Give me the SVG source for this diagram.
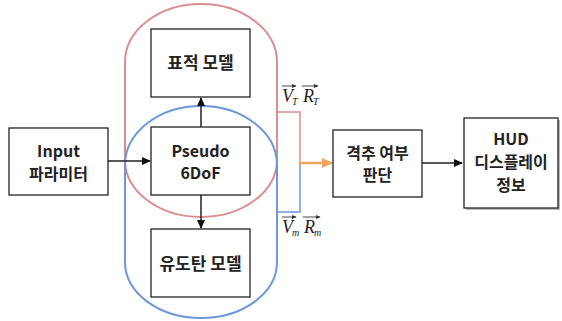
<svg xmlns="http://www.w3.org/2000/svg" width="562" height="321" viewBox="0 0 562 321">
<defs>
<style>
.box{fill:#fff;stroke:#222;stroke-width:1.3}
.t{font-family:"Noto Sans CJK KR","Noto Sans",sans-serif;font-size:16px;font-weight:bold;fill:#222;text-anchor:middle}
.tl{font-size:17px}
.v{font-family:"Liberation Serif",serif;font-style:italic;font-size:18px;fill:#222}
.s{font-family:"Liberation Serif",serif;font-style:italic;font-size:10px;fill:#222}
.ln{stroke:#222;stroke-width:1.5;fill:none}
.ov{stroke:#333;stroke-width:0.9;fill:none}
</style>
<marker id="ah" markerWidth="10" markerHeight="10" refX="8" refY="5" orient="auto" markerUnits="userSpaceOnUse"><path d="M0,1 L9,5 L0,9 Z" fill="#111"/></marker>
<marker id="ao" markerWidth="12" markerHeight="12" refX="10" refY="6" orient="auto" markerUnits="userSpaceOnUse"><path d="M0,1 L11,6 L0,11 Z" fill="#f0a35a"/></marker>
<marker id="sa" markerWidth="5" markerHeight="5" refX="4" refY="2.5" orient="auto" markerUnits="userSpaceOnUse"><path d="M0,0.5 L4.5,2.5 L0,4.5 Z" fill="#333"/></marker>
</defs>
<g id="regions">
<path d="M125,160 L125,62 A76,58 0 0 1 277,62 L277,160 A76,57 0 0 1 125,160 Z" fill="none" stroke="#dc8e8e" stroke-width="2"/>
<path d="M125,165 A76,59 0 0 1 277,165 L277,262 A76,56 0 0 1 125,262 Z" fill="none" stroke="#6b98d8" stroke-width="2"/>
<path d="M277,112 L300,112 L300,163" fill="none" stroke="#dc8e8e" stroke-width="1.5"/>
<path d="M300,163 L300,212 L277,212" fill="none" stroke="#6b98d8" stroke-width="1.5"/>
</g>
<g id="connectors">
<line class="ln" x1="108" y1="161" x2="150" y2="161" marker-end="url(#ah)"/>
<line class="ln" x1="201" y1="127" x2="201" y2="98" marker-end="url(#ah)"/>
<line class="ln" x1="201" y1="195" x2="201" y2="228" marker-end="url(#ah)"/>
<line x1="300" y1="163" x2="332" y2="163" stroke="#f0a35a" stroke-width="2.5" marker-end="url(#ao)"/>
<line class="ln" x1="422" y1="163" x2="462" y2="163" marker-end="url(#ah)"/>
</g>
<g id="input">
<rect class="box" x="9" y="128" width="99" height="67"/>
<text class="t" x="58.5" y="157">Input</text>
<text class="t" x="58.5" y="180">파라미터</text>
</g>
<g id="target">
<rect class="box" x="151" y="29" width="99" height="68"/>
<text class="t tl" x="200.5" y="69">표적 모델</text>
</g>
<g id="pseudo">
<rect class="box" x="151" y="127" width="99" height="68"/>
<text class="t" x="200.5" y="157">Pseudo</text>
<text class="t" x="200.5" y="179">6DoF</text>
</g>
<g id="missile">
<rect class="box" x="151" y="229" width="99" height="68"/>
<text class="t tl" x="200.5" y="270">유도탄 모델</text>
</g>
<g id="decision">
<rect class="box" x="333" y="130" width="89" height="67"/>
<text class="t" x="377.5" y="159">격추 여부</text>
<text class="t" x="377.5" y="181">판단</text>
</g>
<g id="hud">
<rect x="466" y="120" width="94" height="90" fill="#bbb"/>
<rect class="box" x="464" y="118" width="94" height="90"/>
<text class="t" x="511" y="145">HUD</text>
<text class="t" x="511" y="168">디스플레이</text>
<text class="t" x="511" y="191">정보</text>
</g>
<g id="labels">
<line class="ov" x1="282" y1="86" x2="296" y2="86" marker-end="url(#sa)"/>
<text class="v" x="282" y="102">V</text><text class="s" x="292" y="105">T</text>
<line class="ov" x1="302" y1="86" x2="318" y2="86" marker-end="url(#sa)"/>
<text class="v" x="303" y="102">R</text><text class="s" x="313" y="105">T</text>
<line class="ov" x1="282" y1="217" x2="296" y2="217" marker-end="url(#sa)"/>
<text class="v" x="282" y="233">V</text><text class="s" x="292" y="236">m</text>
<line class="ov" x1="303" y1="217" x2="320" y2="217" marker-end="url(#sa)"/>
<text class="v" x="304" y="233">R</text><text class="s" x="314" y="236">m</text>
</g>
</svg>
